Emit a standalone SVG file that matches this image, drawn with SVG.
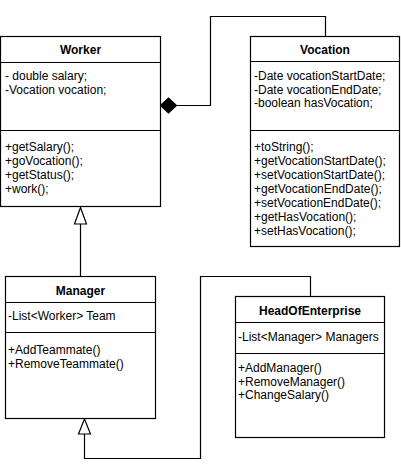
<svg xmlns="http://www.w3.org/2000/svg" width="401" height="476" viewBox="0 0 401 476">
<style>
.box{fill:#fff;stroke:#000;stroke-width:1.2}
.sep{stroke:#000;stroke-width:1.2}
.t{font-family:"Liberation Sans",Arial,sans-serif;font-size:12px;fill:#000}
.title{font-weight:bold;text-anchor:middle}
.edge{fill:none;stroke:#000;stroke-width:1.2}
.tri{fill:#fff;stroke:#000;stroke-width:1.2}
.dia{fill:#000;stroke:#000;stroke-width:1.2}
</style>
<rect width="401" height="476" fill="#fff"/>
<g id="connectors">
  <path class="edge" d="M176.5 105.5 H210.5 V16.5 H325.5 V36.5"/>
  <polygon class="dia" points="160.5,105.5 168.5,98 176.5,105.5 168.5,113"/>
  <path class="edge" d="M80.5 276.5 V224"/>
  <polygon class="tri" points="80.5,207.5 74.5,224 86.5,224"/>
  <path class="edge" d="M310.5 296.5 V276.5 H200.5 V458.5 H84.5 V434"/>
  <polygon class="tri" points="84.5,419 78.5,434 90.5,434"/>
</g>
<g id="worker">
  <rect class="box" x="0.5" y="36.5" width="160" height="170"/>
  <line class="sep" x1="0.5" y1="62.5" x2="160.5" y2="62.5"/>
  <line class="sep" x1="0.5" y1="130.5" x2="160.5" y2="130.5"/>
  <text class="t title" x="80.5" y="54">Worker</text>
  <text class="t" x="5" y="80">- double salary;</text>
  <text class="t" x="5" y="94">-Vocation vocation;</text>
  <text class="t" x="5" y="151">+getSalary();</text>
  <text class="t" x="5" y="165">+goVocation();</text>
  <text class="t" x="5" y="179">+getStatus();</text>
  <text class="t" x="5" y="193">+work();</text>
</g>
<g id="vocation">
  <rect class="box" x="250.5" y="36.5" width="149" height="210"/>
  <line class="sep" x1="250.5" y1="61.5" x2="399.5" y2="61.5"/>
  <line class="sep" x1="250.5" y1="130.5" x2="399.5" y2="130.5"/>
  <text class="t title" x="325" y="54">Vocation</text>
  <text class="t" x="254" y="80">-Date vocationStartDate;</text>
  <text class="t" x="254" y="94">-Date vocationEndDate;</text>
  <text class="t" x="254" y="107">-boolean hasVocation;</text>
  <text class="t" x="254" y="151">+toString();</text>
  <text class="t" x="254" y="165">+getVocationStartDate();</text>
  <text class="t" x="254" y="179">+setVocationStartDate();</text>
  <text class="t" x="254" y="193">+getVocationEndDate();</text>
  <text class="t" x="254" y="207">+setVocationEndDate();</text>
  <text class="t" x="254" y="221">+getHasVocation();</text>
  <text class="t" x="254" y="235">+setHasVocation();</text>
</g>
<g id="manager">
  <rect class="box" x="5.5" y="276.5" width="150" height="142"/>
  <line class="sep" x1="5.5" y1="302.5" x2="155.5" y2="302.5"/>
  <line class="sep" x1="5.5" y1="332.5" x2="155.5" y2="332.5"/>
  <text class="t title" x="80.5" y="294.5">Manager</text>
  <text class="t" x="8" y="320">-List&lt;Worker&gt; Team</text>
  <text class="t" x="8" y="354">+AddTeammate()</text>
  <text class="t" x="8" y="368">+RemoveTeammate()</text>
</g>
<g id="headofenterprise">
  <rect class="box" x="235.5" y="296.5" width="149" height="141"/>
  <line class="sep" x1="235.5" y1="322.5" x2="384.5" y2="322.5"/>
  <line class="sep" x1="235.5" y1="353.5" x2="384.5" y2="353.5"/>
  <text class="t title" x="310" y="314.5">HeadOfEnterprise</text>
  <text class="t" x="238" y="341">-List&lt;Manager&gt; Managers</text>
  <text class="t" x="238" y="372">+AddManager()</text>
  <text class="t" x="238" y="385.5">+RemoveManager()</text>
  <text class="t" x="238" y="399">+ChangeSalary()</text>
</g>
</svg>
